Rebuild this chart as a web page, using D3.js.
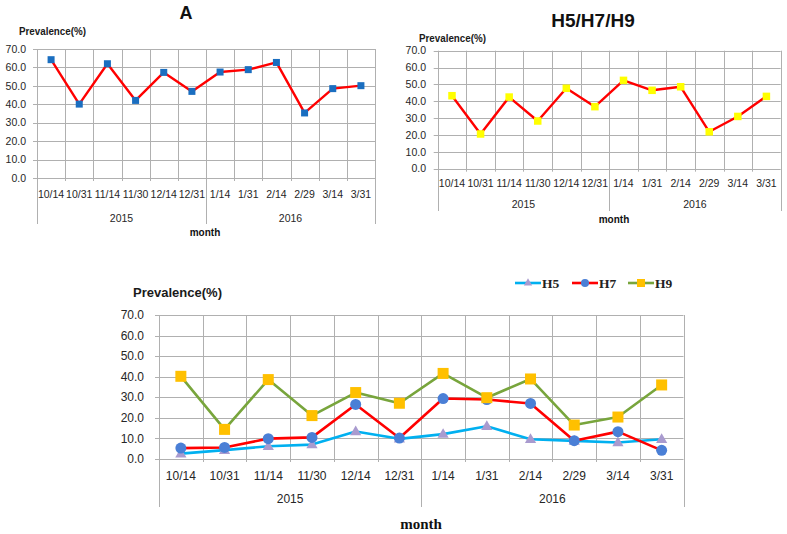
<!DOCTYPE html>
<html>
<head>
<meta charset="utf-8">
<script src="https://cdn.jsdelivr.net/npm/d3@7"></script>
<style>
  html, body { margin: 0; padding: 0; background: #fff; }
  svg { display: block; }
  text { font-family: "Liberation Sans", Arial, sans-serif; }
</style>
</head>
<body>
<svg id="chart" width="787" height="534"></svg>
<script>
// ---------- DATA ----------
const categories = ["10/14","10/31","11/14","11/30","12/14","12/31","1/14","1/31","2/14","2/29","3/14","3/31"];
const years = ["2015", "2016"];          // each year spans 6 categories
const yTicks = [0, 10, 20, 30, 40, 50, 60, 70];

const prevalenceA   = [64.2, 40.1, 62.0, 42.1, 57.3, 47.0, 57.5, 58.8, 62.7, 35.3, 48.5, 50.1];
const prevalenceH   = [43.3, 20.6, 42.5, 28.3, 47.7, 36.8, 52.4, 46.5, 48.6, 21.9, 31.0, 42.9];
const h5Values      = [2.6, 4.3, 6.2, 7.0, 13.4, 9.8, 12.1, 15.9, 9.6, 8.8, 8.0, 9.6];
const h7Values      = [5.3, 5.6, 9.9, 10.5, 26.5, 10.2, 29.4, 28.9, 27.0, 8.9, 13.3, 4.2];
const h9Values      = [40.2, 14.4, 38.6, 21.1, 32.3, 27.1, 41.6, 29.8, 38.9, 16.5, 20.4, 36.0];
const seriesNames   = ["H5", "H7", "H9"];

// ---------- DRAWING ----------
const svg = d3.select("#chart");
const GRID = "#b0b0b0";
const TXT = "#262626";
const fmt = d3.format(".1f");

function drawChart(cfg) {
  const g = svg.append("g");
  const x = d3.scaleBand().domain(categories).range([cfg.x0, cfg.x1]).padding(0);
  const y = d3.scaleLinear().domain([0, 70]).range([cfg.yB, cfg.yT]);
  const bw = x.bandwidth();

  // horizontal gridlines (with small outside tick)
  g.selectAll(".hg").data(yTicks).enter().append("line")
    .attr("x1", cfg.x0 - 4).attr("x2", cfg.x1)
    .attr("y1", d => Math.round(y(d)) + 0.5).attr("y2", d => Math.round(y(d)) + 0.5)
    .attr("stroke", GRID).attr("stroke-width", 1);

  // vertical gridlines at category boundaries
  const bounds = d3.range(categories.length + 1);
  g.selectAll(".vg").data(bounds).enter().append("line")
    .attr("x1", i => Math.round(cfg.x0 + i * bw) + 0.5)
    .attr("x2", i => Math.round(cfg.x0 + i * bw) + 0.5)
    .attr("y1", cfg.yT)
    .attr("y2", i => (i % 6 === 0) ? cfg.sepB : cfg.yB + 3)
    .attr("stroke", GRID).attr("stroke-width", 1);

  // y tick labels
  g.selectAll(".yl").data(yTicks).enter().append("text")
    .attr("x", cfg.yLabelX).attr("y", d => y(d))
    .attr("dy", "0.35em").attr("text-anchor", "end")
    .attr("font-size", cfg.tickFont).attr("fill", TXT)
    .text(d => fmt(d));

  // category labels
  g.selectAll(".xl").data(categories).enter().append("text")
    .attr("x", d => x(d) + bw / 2).attr("y", cfg.catY)
    .attr("dy", "0.35em").attr("text-anchor", "middle")
    .attr("font-size", cfg.tickFont).attr("fill", TXT)
    .text(d => d);

  // year labels
  g.selectAll(".yr").data(years).enter().append("text")
    .attr("x", (d, i) => cfg.x0 + (i * 6 + 3) * bw).attr("y", cfg.yearY)
    .attr("dy", "0.35em").attr("text-anchor", "middle")
    .attr("font-size", cfg.tickFont).attr("fill", TXT)
    .text(d => d);

  // axis titles
  g.append("text").attr("x", cfg.prevX).attr("y", cfg.prevY)
    .attr("font-size", cfg.prevFont).attr("font-weight", "bold").attr("fill", "#1a1a1a")
    .attr("textLength", cfg.prevLen).attr("lengthAdjust", "spacingAndGlyphs")
    .text("Prevalence(%)");
  g.append("text").attr("x", cfg.monthX).attr("y", cfg.monthY)
    .attr("text-anchor", "middle")
    .attr("font-size", cfg.monthFont).attr("font-weight", "bold").attr("fill", "#111")
    .style("font-family", cfg.monthFamily || null)
    .text("month");

  if (cfg.title) {
    g.append("text").attr("x", cfg.titleX).attr("y", cfg.titleY)
      .attr("text-anchor", "middle").attr("font-size", cfg.titleFont)
      .attr("font-weight", "bold").attr("fill", "#111")
      .text(cfg.title);
  }

  // series
  cfg.series.forEach(s => {
    const line = d3.line().x((d, i) => x(categories[i]) + bw / 2).y(d => y(d));
    g.append("path").datum(s.values).attr("d", line)
      .attr("fill", "none").attr("stroke", s.color).attr("stroke-width", s.width)
      .attr("stroke-linejoin", "round");
    const m = g.selectAll(null).data(s.values).enter();
    const cx = (d, i) => x(categories[i]) + bw / 2;
    if (s.marker === "square") {
      m.append("rect")
        .attr("x", (d, i) => cx(d, i) - s.size / 2).attr("y", d => y(d) - s.size / 2)
        .attr("width", s.size).attr("height", s.size).attr("fill", s.mcolor);
    } else if (s.marker === "circle") {
      m.append("circle").attr("cx", cx).attr("cy", d => y(d))
        .attr("r", s.size / 2).attr("fill", s.mcolor);
    } else {
      const sym = d3.symbol().type(d3.symbolTriangle).size(s.size * s.size * 0.45);
      m.append("path").attr("d", sym)
        .attr("transform", (d, i) => `translate(${cx(d, i)},${y(d) + 0.5})`)
        .attr("fill", s.mcolor);
    }
  });
  return { x, y };
}

// Chart A
drawChart({
  x0: 37, x1: 375, yT: 49, yB: 178, sepB: 224,
  yLabelX: 26, catY: 194, yearY: 218, tickFont: 10.5,
  prevX: 19, prevY: 35, prevFont: 10.5, prevLen: 67,
  monthX: 205, monthY: 236, monthFont: 10,
  title: "A", titleX: 186, titleY: 19, titleFont: 18,
  series: [{ values: prevalenceA, color: "#ff0000", width: 2.4, marker: "square", mcolor: "#1a6ec0", size: 7 }]
});

// Chart H5/H7/H9
drawChart({
  x0: 437.7, x1: 780.7, yT: 50.7, yB: 168.7, sepB: 211,
  yLabelX: 426, catY: 183, yearY: 204, tickFont: 10.5,
  prevX: 419, prevY: 42, prevFont: 10.5, prevLen: 67,
  monthX: 614, monthY: 223, monthFont: 10,
  title: "H5/H7/H9", titleX: 593, titleY: 27, titleFont: 19,
  series: [{ values: prevalenceH, color: "#ff0000", width: 2.4, marker: "square", mcolor: "#ffff00", size: 7.5 }]
});

// Bottom chart
const bottomSeries = [
  { name: seriesNames[0], values: h5Values, color: "#00b0f0", width: 2.6, marker: "triangle", mcolor: "#a99bcf", size: 11 },
  { name: seriesNames[1], values: h7Values, color: "#ff0000", width: 2.6, marker: "circle", mcolor: "#4a7fd6", size: 11 },
  { name: seriesNames[2], values: h9Values, color: "#78a53c", width: 2.6, marker: "square", mcolor: "#ffc000", size: 11 }
];
drawChart({
  x0: 159, x1: 683.5, yT: 315, yB: 459, sepB: 507,
  yLabelX: 144, catY: 476, yearY: 499, tickFont: 12,
  prevX: 133, prevY: 297, prevFont: 12, prevLen: 89,
  monthX: 421, monthY: 529, monthFont: 15, monthFamily: "'Liberation Serif', 'Times New Roman', serif",
  series: bottomSeries
});

// Legend
const legendX = [515, 572, 628];
const lg = svg.append("g");
bottomSeries.forEach((s, i) => {
  const lx = legendX[i], ly = 283;
  lg.append("line").attr("x1", lx).attr("x2", lx + 26).attr("y1", ly).attr("y2", ly)
    .attr("stroke", s.color).attr("stroke-width", 2.6);
  const cx = lx + 13;
  if (s.marker === "square") {
    lg.append("rect").attr("x", cx - 4).attr("y", ly - 4).attr("width", 8).attr("height", 8).attr("fill", s.mcolor);
  } else if (s.marker === "circle") {
    lg.append("circle").attr("cx", cx).attr("cy", ly).attr("r", 4).attr("fill", s.mcolor);
  } else {
    lg.append("path").attr("d", d3.symbol().type(d3.symbolTriangle).size(30))
      .attr("transform", `translate(${cx},${ly})`).attr("fill", s.mcolor);
  }
  lg.append("text").attr("x", lx + 27).attr("y", ly).attr("dy", "0.35em")
    .attr("font-size", 13.5).attr("font-weight", "bold").attr("fill", "#222")
    .style("font-family", "'Liberation Serif', 'Times New Roman', serif")
    .text(s.name);
});
</script>
</body>
</html>
